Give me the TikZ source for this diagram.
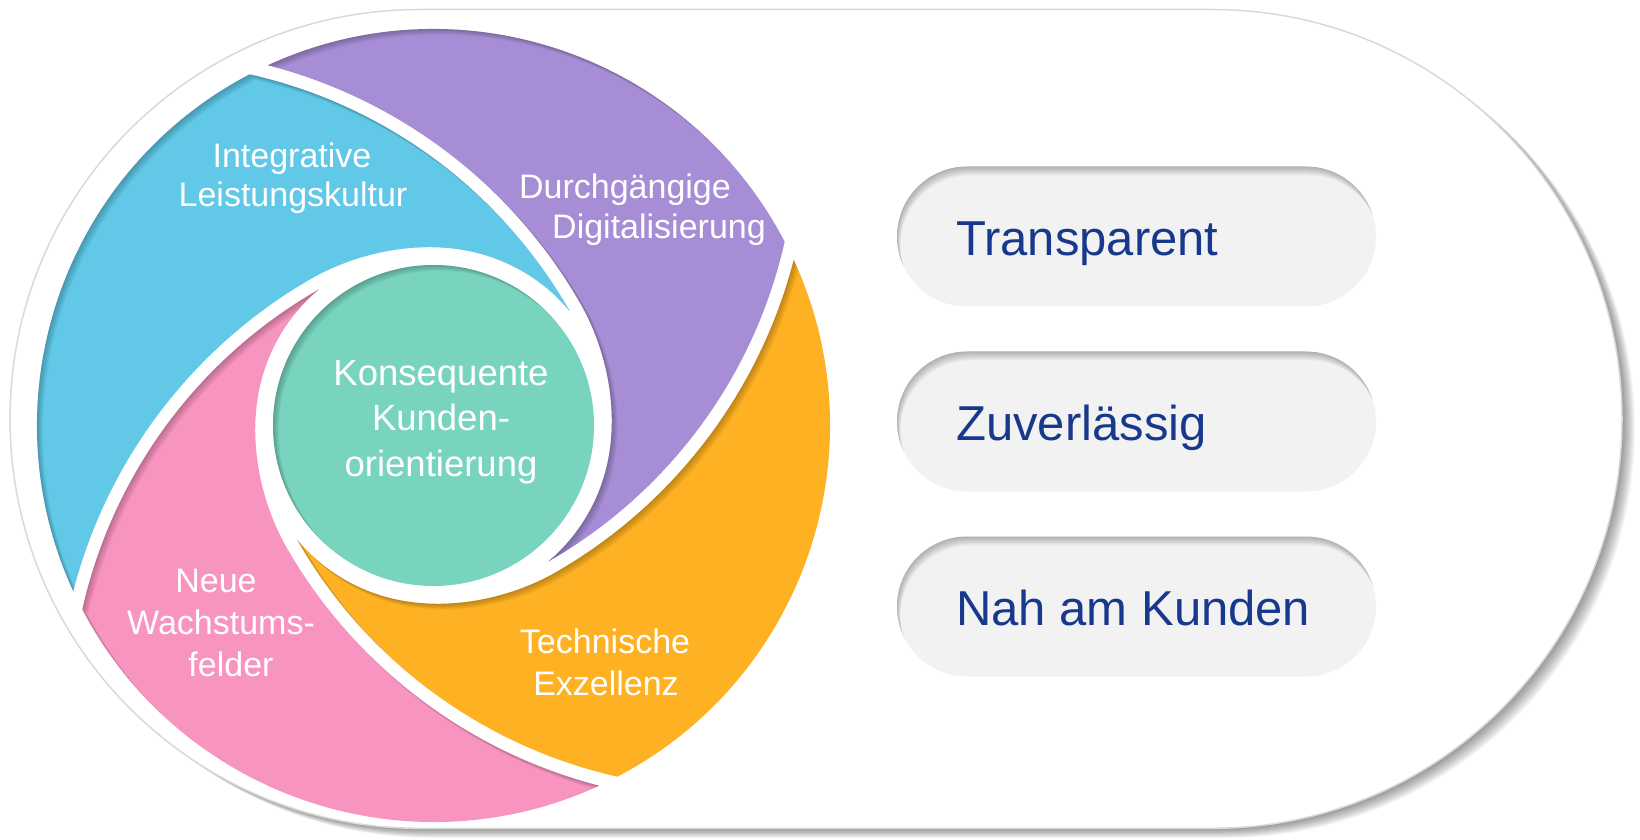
\documentclass[tikz,border=0pt]{standalone}
\usepackage{fontspec}
\setmainfont{Liberation Sans}
\definecolor{cblue}{HTML}{61C8E8}
\definecolor{cpurple}{HTML}{A68DD5}
\definecolor{corange}{HTML}{FDB123}
\definecolor{cpink}{HTML}{F894C0}
\definecolor{cteal}{HTML}{79D4BF}
\definecolor{ctext}{HTML}{17388C}
\definecolor{cpill}{HTML}{F2F2F2}
\definecolor{cborder}{HTML}{D9D9D9}
\newcommand\stadiumpath{(419.4,10.7) -- (1212.6,10.7) arc[start angle=-90,end angle=90,radius=409.4] -- (419.4,829.5) arc[start angle=90,end angle=270,radius=409.4] -- cycle}
\newcommand\segpath{(146.30,123.09) arc[start angle=30,end angle=75.52,radius=506.5] arc[start angle=114.69,end angle=27.63,radius=396.5] arc[start angle=-12.70,end angle=-60.25,radius=493.5] arc[start angle=-49.89,end angle=-15,radius=178] .. controls (186.68,8.99) and (174.8,73.73) .. (146.30,123.09) -- cycle}
\newcommand\pillpath[1]{(967,#1-70) -- (1306,#1-70) arc[start angle=-90,end angle=90,radius=70] -- (967,#1+70) arc[start angle=90,end angle=270,radius=70] -- cycle}
\begin{document}
\begin{tikzpicture}[x=1pt,y=1pt,
  lbl/.style={text=white,inner sep=0pt,anchor=base,font=\fontsize{34}{40}\selectfont},
  clbl/.style={text=white,inner sep=0pt,anchor=base,font=\fontsize{36.5}{44}\selectfont},
  plbl/.style={text=ctext,inner sep=0pt,anchor=base west,font=\fontsize{49}{58}\selectfont},
  ishadow/.style={black,opacity=0.035,even odd rule}]
\useasboundingbox (0,0) rectangle (1640,839);
\fill[white] (0,0) rectangle (1640,839);
% outer stadium with soft shadow
\foreach \k in {1,...,13} \fill[black,opacity=0.035,shift={(\k,-0.75*\k)}] \stadiumpath;
\fill[white] \stadiumpath;
\draw[cborder,line width=1.5pt] \stadiumpath;
% spiral segments
\begin{scope}[shift={(433.5,413.5)}]
\foreach \k/\col in {0/cpurple,1/cblue,2/cpink,3/corange}{
  \begin{scope}[rotate=90*\k]
    \fill[\col] \segpath;
    \begin{scope}
      \clip \segpath;
      \foreach \d in {1,...,7}
        \fill[ishadow,shift={({-45-90*\k}:{1.2*\d})}] (0,0) circle[radius=900] \segpath;
    \end{scope}
  \end{scope}
}
\fill[cteal] (0,0) circle[radius=160.5];
\begin{scope}
  \clip (0,0) circle[radius=160.5];
  \foreach \d in {1,...,7}
    \fill[ishadow,shift={(-45:{1.2*\d})}] (0,0) circle[radius=900] (0,0) circle[radius=160.5];
\end{scope}
\end{scope}
% pills
\foreach \cy in {602.5,417.5,232.5}{
  \fill[cpill] \pillpath{\cy};
  \begin{scope}
    \clip \pillpath{\cy};
    \foreach \d in {1,...,9}
      \fill[black,opacity=0.03,even odd rule,shift={(0.4*\d,-\d)}] (850,0) rectangle (1600,839) \pillpath{\cy};
  \end{scope}
}
\node[plbl] (t1) at (956,583.5) {Transparent};
\node[plbl] (t2) at (956,398.5) {Zuverlässig};
\node[plbl] (t3) at (956,213.5) {Nah am Kunden};
% labels
\node[lbl] (a1) at (292,671.6) {Integrative};
\node[lbl] (a2) at (293,632) {Leistungskultur};
\node[lbl] (b1) at (625,640.3) {Durchgängige};
\node[lbl] (b2) at (659,600.5) {Digitalisierung};
\node[lbl] (c1) at (605,185.2) {Technische};
\node[lbl] (c2) at (606,143.4) {Exzellenz};
\node[lbl] (d1) at (216,247) {Neue};
\node[lbl] (d2) at (221,205) {Wachstums-};
\node[lbl] (d3) at (231,163) {felder};
\node[clbl] (k1) at (441,453) {Konsequente};
\node[clbl] (k2) at (441,408) {Kunden-};
\node[clbl] (k3) at (441,363) {orientierung};
\end{tikzpicture}
\end{document}
